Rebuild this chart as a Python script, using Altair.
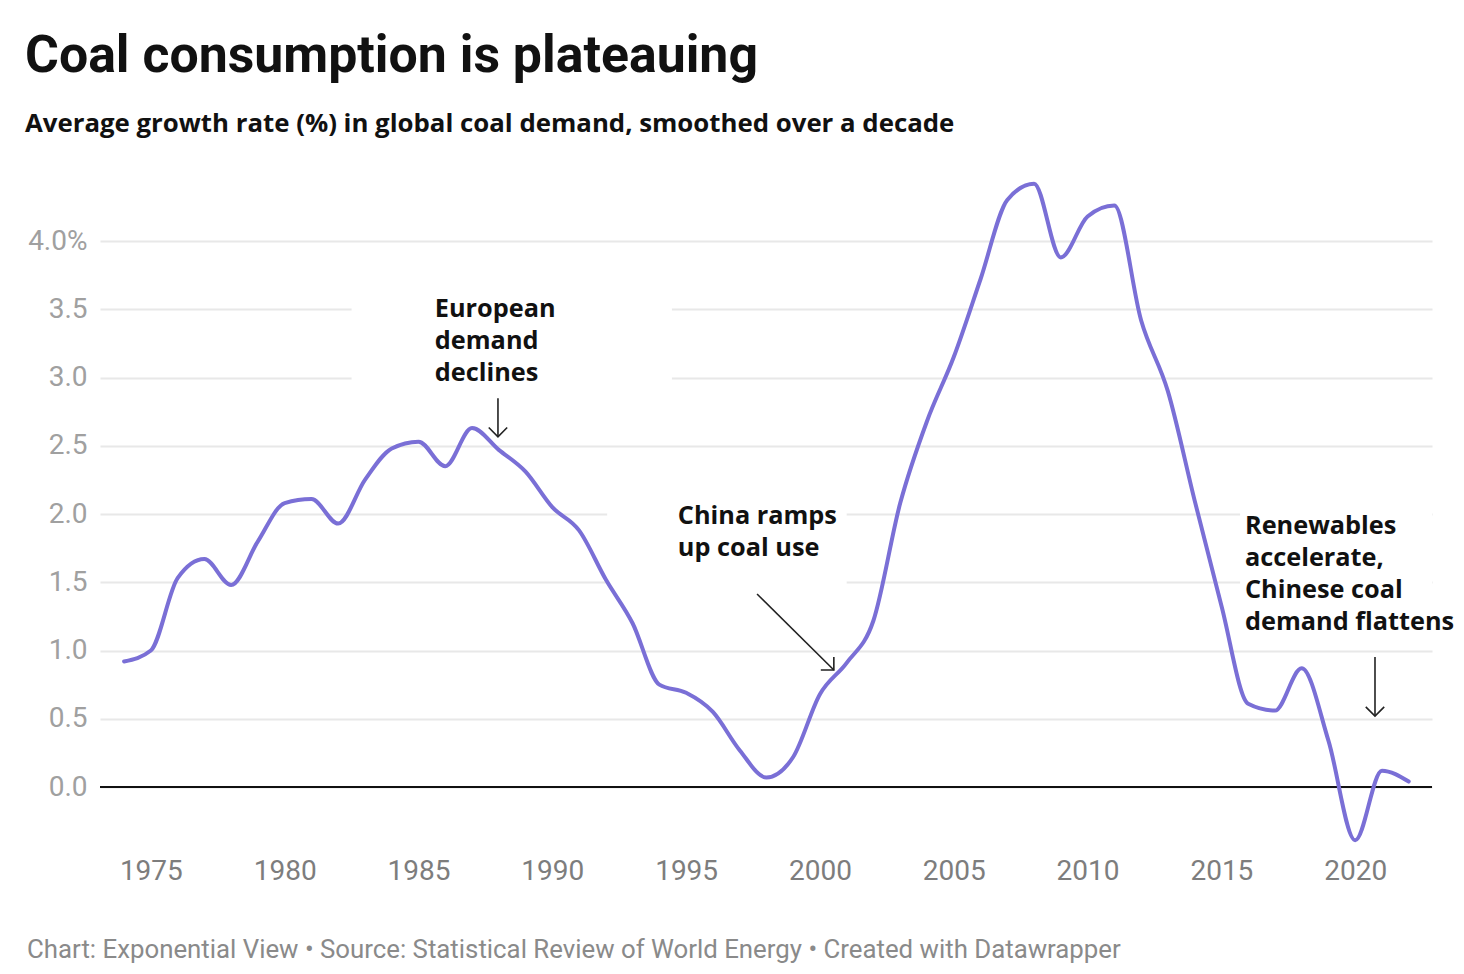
import altair as alt
import pandas as pd

# ---- data ----
years = list(range(1974, 2023))
growth = [0.92, 1.00, 1.53, 1.67, 1.48, 1.80, 2.08, 2.11, 1.93, 2.25,
          2.48, 2.53, 2.35, 2.63, 2.47, 2.31, 2.05, 1.88, 1.52, 1.20,
          0.75, 0.69, 0.55, 0.27, 0.07, 0.22, 0.68, 0.91, 1.22, 2.08,
          2.68, 3.15, 3.72, 4.30, 4.42, 3.88, 4.18, 4.26, 3.42, 2.90,
          2.10, 1.33, 0.61, 0.56, 0.87, 0.34, -0.39, 0.12, 0.04]

y_ticks = [0, 0.5, 1.0, 1.5, 2.0, 2.5, 3.0, 3.5, 4.0]
x_ticks = [1975, 1980, 1985, 1990, 1995, 2000, 2005, 2010, 2015, 2020]

title_text = "Coal consumption is plateauing"
subtitle_text = "Average growth rate (%) in global coal demand, smoothed over a decade"
footer_text = "Chart: Exponential View \u2022 Source: Statistical Review of World Energy \u2022 Created with Datawrapper"

# annotations (data coordinates)
ann_text = ["European\ndemand\ndeclines", "China ramps\nup coal use",
            "Renewables\naccelerate,\nChinese coal\ndemand flattens"]
ann_x = [1985.61, 1994.69, 2015.88]
ann_y = [3.445, 1.93, 1.851]

# label backgrounds that interrupt gridlines
box_x = [1982.5, 1992.05, 2015.7]
box_x2 = [1994.47, 2001.0, 2022.87]
box_y = [2.89, 1.44, 1.13]
box_y2 = [3.64, 2.14, 2.14]

# arrows
arr_x1 = [1987.97, 1997.65, 2020.74]
arr_y1 = [2.848, 1.414, 0.952]
arr_x2 = [1987.97, 2000.52, 2020.74]
arr_y2 = [2.566, 0.857, 0.52]
arr_angle = [0, 315, 0]

X_DOMAIN = [1973.1, 2022.87]
Y_DOMAIN = [-0.454, 4.447]

df = pd.DataFrame({"year": years, "growth": growth})
ann = pd.DataFrame({"text": ann_text, "year": ann_x, "growth": ann_y})
boxes = pd.DataFrame({"year": box_x, "year2": box_x2, "growth": box_y, "growth2": box_y2})
arrows = pd.DataFrame({"year": arr_x1, "growth": arr_y1, "year2": arr_x2,
                       "growth2": arr_y2, "angle": arr_angle})
heads = pd.DataFrame({"year": arr_x2, "growth": arr_y2, "angle": arr_angle})
zero_df = pd.DataFrame({"growth": [0]})

xs = alt.Scale(domain=X_DOMAIN, nice=False, zero=False)
ys = alt.Scale(domain=Y_DOMAIN, nice=False, zero=False)

x_axis = alt.Axis(
    values=x_ticks, format="d", title=None, grid=False, ticks=False, domain=False,
    labelFont="Roboto", labelFontSize=28, labelColor="#7d7d7d", labelPadding=8,
    labelFlush=False)
y_axis = alt.Axis(
    values=y_ticks, title=None, ticks=False, domain=False, grid=True,
    gridColor="#e8e8e8", gridWidth=2,
    labelExpr="datum.value == 4 ? format(datum.value, '.1f') + '%' : format(datum.value, '.1f')",
    labelFont="Roboto", labelFontSize=28, labelColor="#a0a0a0", labelPadding=13)

X = alt.X("year:Q", scale=xs, axis=x_axis)
Y = alt.Y("growth:Q", scale=ys, axis=y_axis)

box_layer = alt.Chart(boxes).mark_rect(color="white").encode(
    x=X, x2="year2:Q", y=Y, y2="growth2:Q",
)

zero = alt.Chart(zero_df).mark_rule(color="#111111", strokeWidth=2).encode(y=Y)

line = alt.Chart(df).mark_line(
    interpolate="monotone", color="#7a6fd6", strokeWidth=4, strokeCap="round"
).encode(x=X, y=Y)

arrow_shaft = alt.Chart(arrows).mark_rule(color="#222222", strokeWidth=1.6).encode(
    x=X, y=Y, x2="year2:Q", y2="growth2:Q",
)

arrow_head = alt.Chart(heads).mark_point(
    shape="M-1,-1L0,0L1,-1", filled=False, stroke="#222222", strokeWidth=1.6,
    size=340, opacity=1,
).encode(x=X, y=Y, angle=alt.Angle("angle:Q", scale=None))

ann_layer = alt.Chart(ann).mark_text(
    align="left", baseline="alphabetic", font="Open Sans", fontWeight="bold",
    fontSize=25.3, lineHeight=32, lineBreak="\n", color="#111111",
).encode(x=X, y=Y, text="text:N")

title = alt.Chart(pd.DataFrame({"t": [title_text]})).mark_text(
    align="left", baseline="alphabetic", font="Roboto", fontWeight="bold",
    fontSize=51.8, color="#111111",
).encode(x=alt.value(-75), y=alt.value(-108), text="t:N")

subtitle = alt.Chart(pd.DataFrame({"t": [subtitle_text]})).mark_text(
    align="left", baseline="alphabetic", font="Open Sans", fontWeight="bold",
    fontSize=25.8, color="#111111",
).encode(x=alt.value(-75), y=alt.value(-48), text="t:N")

footer = alt.Chart(pd.DataFrame({"t": [footer_text]})).mark_text(
    align="left", baseline="alphabetic", font="Roboto", fontWeight="normal",
    fontSize=25.8, color="#8a8a8a",
).encode(x=alt.value(-73), y=alt.value(778), text="t:N")

chart = alt.layer(
    box_layer, zero, line, arrow_shaft, arrow_head, ann_layer, title, subtitle, footer
).properties(
    width=1332, height=669,
    padding={"left": 92, "top": 172, "right": 24, "bottom": 117},
    autosize=alt.AutoSizeParams(type="none"),
    background="white",
).configure_view(stroke=None)

chart.save("out.html", embed_options={"renderer": "svg", "actions": False})
